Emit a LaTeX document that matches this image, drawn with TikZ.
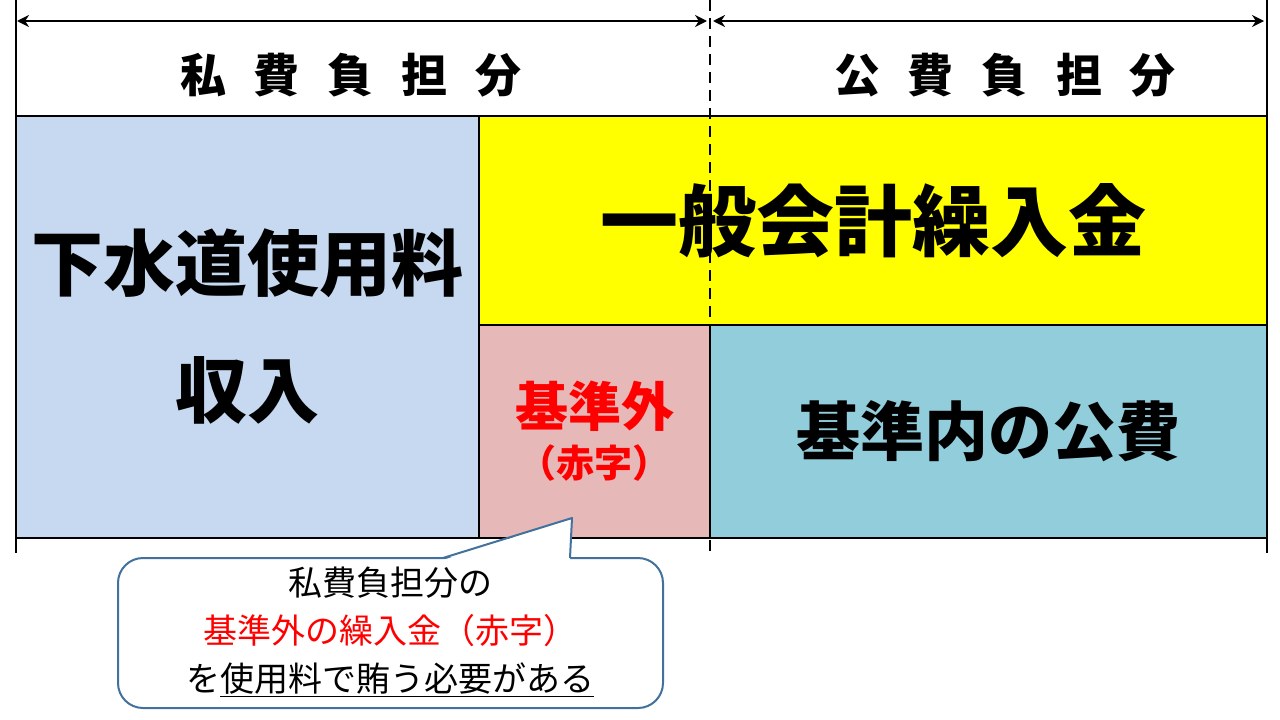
\documentclass[tikz,border=0pt]{standalone}
\usepackage{fontspec}
\setmainfont{Noto Sans CJK JP}
\usepackage{xcolor}
\usetikzlibrary{arrows.meta, positioning, calc}

\definecolor{feeblue}{HTML}{C6D9F1}
\definecolor{transyellow}{HTML}{FFFF00}
\definecolor{extrapink}{HTML}{E6B9B8}
\definecolor{publicaqua}{HTML}{92CDDC}
\definecolor{notered}{HTML}{FF0000}
\definecolor{noteline}{HTML}{41719C}

\begin{document}
\begin{tikzpicture}[
  x=1pt, y=-1pt, >={Stealth[length=12pt, width=12pt]},
  cell/.style={draw, line width=2.5pt, inner sep=0pt, outer sep=0pt,
               anchor=north west, align=center, font=\bfseries},
  head/.style={font=\bfseries\fontsize{46}{46}\selectfont},
  rule/.style={line width=2.5pt},
  callout/.style={draw=noteline, line width=2pt, fill=white}]
  \useasboundingbox (0,0) rectangle (1280,720);

  % frame and boxes
  \node[cell, fill=feeblue, minimum width=463pt, minimum height=422pt,
        font=\bfseries\fontsize{72}{127}\selectfont] (fee) at (16,116)
        {下水道使用料\\収入};
  \node[cell, fill=transyellow, minimum width=788pt, minimum height=209pt,
        font=\bfseries\fontsize{78}{78}\selectfont] (trans) at (fee.north east)
        {一般会計繰入金};
  \node[cell, fill=extrapink, minimum width=231pt, minimum height=213pt,
        text=notered] (extra) at (trans.south west)
        {{\fontsize{53}{53}\selectfont 基準外}\\[12pt]{\fontsize{38}{40}\selectfont （赤字）}};
  \node[cell, fill=publicaqua, minimum width=557pt, minimum height=213pt,
        font=\bfseries\fontsize{64}{64}\selectfont] (public) at (extra.north east)
        {基準内の公費};

  \coordinate (topL) at (16,0);
  \coordinate (botL) at (16,553);
  \coordinate (topR) at (1267,0);
  \coordinate (botR) at (1267,553);
  \coordinate (topM) at (710,0);
  \coordinate (botM) at (710,553);
  \draw[rule] (topL) -- (botL);
  \draw[rule] (topR) -- (botR);
  \draw[rule, dash pattern=on 11pt off 7pt] (topM) -- (botM);

  % shares
  \draw[rule, <->, line width=2pt] ($(topL)+(1,21)$) -- ($(topM)+(-3,21)$);
  \draw[rule, <->, line width=2pt] ($(topM)+(3,21)$) -- ($(topR)+(-3,21)$);
  \node[head] (private) at (351,75)
    {私\hspace{28pt}費\hspace{28pt}負\hspace{28pt}担\hspace{28pt}分};
  \node[head] (publichead) at (1005,75)
    {公\hspace{28pt}費\hspace{28pt}負\hspace{28pt}担\hspace{28pt}分};

  % note
  \coordinate (tip) at (572,518);
  \draw[callout, rounded corners=25pt] (118,558) rectangle (663,708);
  \fill[white] (443,560) -- (tip) -- (570,560) -- cycle;
  \draw[callout, fill=none, line join=round] (443,558) -- (tip) -- (570,558);
  \node[align=center, font=\fontsize{34}{48}\selectfont] (note) at (390,632)
    {私費負担分の\\
     \textcolor{notered}{基準外の繰入金（赤字）}\\
     を\underline{使用料で賄う必要がある}};
\end{tikzpicture}
\end{document}
